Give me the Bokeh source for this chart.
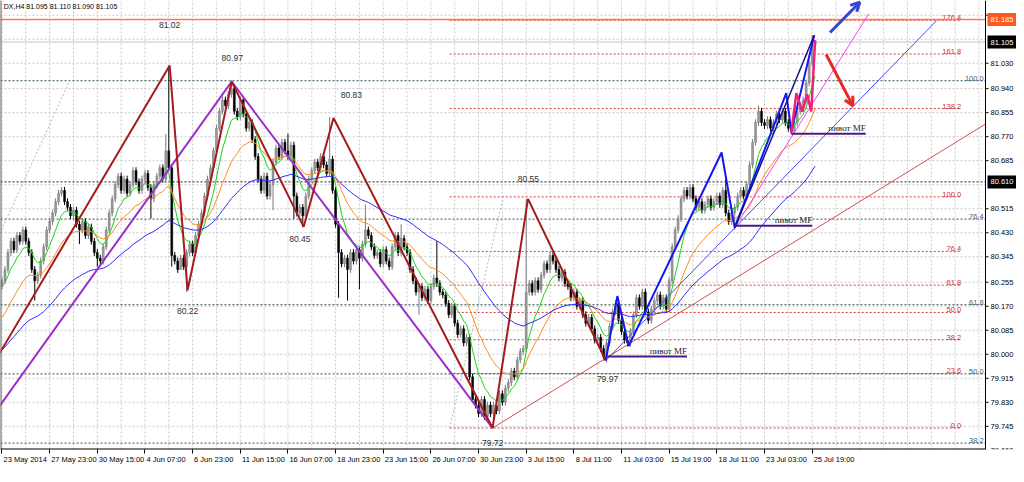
import numpy as np
from bokeh.plotting import figure
from bokeh.models import Range1d, FixedTicker, Label, Arrow, OpenHead
from bokeh.core.properties import value
from bokeh.embed import file_html
from bokeh.resources import INLINE

# ---------------- data ----------------
first_open = 80.24
closes = [
    80.26, 80.30, 80.36, 80.40, 80.37, 80.42, 80.40, 80.44, 80.40, 80.36,
    80.30, 80.26, 80.28, 80.33, 80.38, 80.44, 80.47, 80.50, 80.54, 80.57,
    80.58, 80.54, 80.52, 80.49, 80.51, 80.46, 80.44, 80.47, 80.42, 80.45,
    80.40, 80.36, 80.34, 80.33, 80.38, 80.44, 80.50, 80.55, 80.60, 80.63,
    80.58, 80.62, 80.57, 80.60, 80.65, 80.61, 80.58, 80.62, 80.64, 80.59,
    80.55, 80.60, 80.63, 80.66, 80.62, 80.72, 80.66, 80.35, 80.33, 80.30,
    80.34, 80.31, 80.36, 80.39, 80.36, 80.42, 80.46, 80.50, 80.56, 80.62,
    80.66, 80.72, 80.80, 80.86, 80.90, 80.88, 80.92, 80.94, 80.86, 80.84,
    80.90, 80.85, 80.80, 80.82, 80.76, 80.70, 80.62, 80.58, 80.63, 80.56,
    80.60, 80.68, 80.73, 80.70, 80.75, 80.72, 80.70, 80.74, 80.56, 80.50,
    80.52, 80.49, 80.56, 80.62, 80.65, 80.68, 80.66, 80.70, 80.67, 80.64,
    80.69, 80.58, 80.46, 80.36, 80.32, 80.34, 80.30, 80.36, 80.33, 80.37,
    80.34, 80.39, 80.44, 80.42, 80.38, 80.35, 80.36, 80.32, 80.37, 80.33,
    80.31, 80.38, 80.42, 80.36, 80.41, 80.38, 80.36, 80.30, 80.26, 80.22,
    80.24, 80.20, 80.23, 80.19, 80.24, 80.27, 80.25, 80.22, 80.21, 80.18,
    80.14, 80.17, 80.11, 80.07, 80.09, 80.04, 80.06, 79.92, 79.84, 79.82,
    79.79, 79.84, 79.78, 79.82, 79.79, 79.82, 79.80, 79.86, 79.83, 79.88,
    79.90, 79.94, 79.92, 79.98, 80.01, 80.02, 80.22, 80.25, 80.22, 80.26,
    80.23, 80.28, 80.32, 80.30, 80.35, 80.33, 80.30, 80.27, 80.29, 80.25,
    80.24, 80.20, 80.22, 80.17, 80.19, 80.14, 80.11, 80.13, 80.09, 80.05,
    80.06, 80.02, 79.99, 80.04, 80.10, 80.15, 80.18, 80.12, 80.08, 80.05,
    80.04, 80.08, 80.14, 80.20, 80.17, 80.22, 80.15, 80.12, 80.16, 80.19,
    80.21, 80.17, 80.20, 80.16, 80.26, 80.38, 80.44, 80.48, 80.55, 80.58,
    80.56, 80.59, 80.55, 80.52, 80.54, 80.51, 80.53, 80.55, 80.52, 80.54,
    80.56, 80.53, 80.58, 80.50, 80.47, 80.50, 80.52, 80.56, 80.58, 80.56,
    80.60, 80.67, 80.75, 80.82, 80.86, 80.82, 80.81, 80.83, 80.80, 80.82,
    80.85, 80.83, 80.86, 80.82, 80.80, 80.79, 80.82, 80.86, 80.88, 80.90,
    80.96, 81.03, 81.095, 81.105,
]
# long wicks: bar index and extreme price
wick_bars = [11, 26, 32, 50, 55, 56, 57, 60, 62, 77, 91, 96, 98, 101, 110, 113, 116,
             120, 122, 134, 140, 146, 165, 176, 203, 243, 246, 254, 265, 272, 273, 273]
wick_prices = [80.19, 80.39, 80.31, 80.48, 80.78, 81.02, 80.31, 80.31, 80.22, 80.97,
               80.51, 80.78, 80.48, 80.45, 80.84, 80.20, 80.19, 80.23, 80.53, 80.46,
               80.14, 80.40, 79.74, 80.55, 79.97, 80.62, 80.44, 80.88, 80.78, 81.13,
               81.11, 81.09]

# moving averages (exponential), starting values read at the left edge
ma_periods = [8, 21, 55]
ma_starts = [80.24, 80.13, 80.016]
ma_colors = ["#19D419", "#FF8C1A", "#2B2BFF"]

# x axis labels (every 16 bars)
x_tick_bars = [0, 16, 32, 48, 64, 80, 96, 112, 128, 144, 160, 176, 192, 208, 224, 240, 256, 272]
x_tick_labels = ["23 May 2014", "27 May 23:00", "30 May 15:00", "4 Jun 07:00", "6 Jun 23:00",
                 "11 Jun 15:00", "16 Jun 07:00", "18 Jun 23:00", "23 Jun 15:00", "26 Jun 07:00",
                 "30 Jun 23:00", "3 Jul 15:00", "8 Jul 11:00", "11 Jul 03:00", "15 Jul 19:00",
                 "18 Jul 11:00", "23 Jul 03:00", "25 Jul 19:00"]
y_tick_vals = [79.660, 79.745, 79.830, 79.915, 80.000, 80.085, 80.170, 80.255, 80.345,
               80.430, 80.515, 80.685, 80.770, 80.855, 80.940, 81.030, 81.200]
y_tick_labels = ["79.660", "79.745", "79.830", "79.915", "80.000", "80.085", "80.170", "80.255",
                 "80.345", "80.430", "80.515", "80.685", "80.770", "80.855", "80.940", "81.030", "81.200"]
y_grid_vals = y_tick_vals + [80.600, 81.115]
x_grid_bars = list(range(0, 330, 8))

# zigzags and trend lines (bar, price)
zz_red_x = [-1, 56.3, 62.3, 77.1, 101.3, 111.3, 164.7, 176.6, 202.7]
zz_red_y = [80.000, 81.022, 80.226, 80.965, 80.451, 80.836, 79.739, 80.550, 79.978]
zz_purple_x = [-1, 77.1, 164.7]
zz_purple_y = [79.814, 80.965, 79.739]
zz_blue_x = [202.7, 206.6, 210.4, 241.6, 246.0, 263.3, 265.0, 272.7]
zz_blue_y = [79.978, 80.206, 80.029, 80.714, 80.448, 80.924, 80.788, 81.129]
navy_x = [246.0, 272.7]
navy_y = [80.448, 81.129]
zz_pink_x = [265.0, 266.7, 268.7, 270.3, 271.7, 273.0]
zz_pink_y = [80.783, 80.924, 80.859, 80.920, 80.859, 81.112]
pink_line_x = [246.0, 291.0]
pink_line_y = [80.448, 81.205]
blue_trend_x = [202.7, 313.7]
blue_trend_y = [79.978, 81.180]
red_trend_x = [164.7, 330.2]
red_trend_y = [79.739, 80.815]

pivot_x0 = [203.3, 246.0, 265.0]
pivot_x1 = [230.0, 272.0, 290.0]
pivot_y = [79.992, 80.455, 80.780]
pivot_text = ["пивот MF", "пивот MF", "пивот MF"]

peak_labels = ["81.02", "80.97", "80.83", "80.45", "80.22", "80.55", "79.97", "79.72"]
peak_label_x = [56.3, 77.3, 117.3, 100.0, 62.3, 176.7, 203.3, 164.7]
peak_label_y = [81.167, 81.050, 80.917, 80.407, 80.153, 80.619, 79.913, 79.687]

# Fibonacci (red): low/high anchors
fib_red_lo, fib_red_hi = 79.739, 80.557
fib_red_levels = [0.0, 23.6, 38.2, 50.0, 61.8, 76.4, 100.0, 138.2, 161.8, 176.4]
fib_red_x0, fib_red_x1 = 150.3, 322.0
fib_red_diag_x = [150.3, 168.3]
# Fibonacci (dark)
fib_dk_lo, fib_dk_hi = 78.893, 80.968
fib_dk_levels = [38.2, 50.0, 61.8, 76.4, 100.0]
fib_dk_diag_x = [-67.1, 22.7]

hline_black = 80.610
hline_orange = 81.185
hline_bid = 81.105
badge_prices = [81.185, 81.105, 80.610]
badge_texts = ["81.185", "81.105", "80.610"]
badge_colors = ["#FF5A1E", "#000000", "#000000"]

arrow_blue = [278.0, 81.139, 288.0, 81.246]
arrow_red = [276.7, 81.061, 285.7, 80.879]

title_text = "DX,H4  81.095 81.110 81.090 81.105"

# ---------------- derived ----------------
n = len(closes)
bars = np.arange(n)
opens = [first_open] + closes[:-1]
highs = [max(o, c) + 0.012 for o, c in zip(opens, closes)]
lows = [min(o, c) - 0.012 for o, c in zip(opens, closes)]
for b, pr in zip(wick_bars, wick_prices):
    if pr > max(opens[b], closes[b]):
        highs[b] = pr
    else:
        lows[b] = pr
up = [c >= o for o, c in zip(opens, closes)]

def ema(vals, period, start):
    a = 2.0 / (period + 1)
    e = start
    out = [start]
    for v in vals[1:]:
        e = e + a * (v - e)
        out.append(e)
    return out

W_FIG, H_FIG = 1016, 466
X0, XR = -0.5, 330.2          # chart area (price axis sits at XR)
PPB = 985.0 / (XR - X0)       # pixels per bar
X1 = X0 + W_FIG / PPB         # frame extends over the price-label column
Y0, Y1 = 79.663, 81.252

p = figure(width=W_FIG, height=H_FIG, output_backend="svg", toolbar_location=None,
           x_range=Range1d(X0, X1), y_range=Range1d(Y0, Y1),
           y_axis_location=None, min_border_left=0, min_border_top=0,
           min_border_bottom=0, min_border_right=0)
p.background_fill_color = "white"
p.border_fill_color = "white"
p.outline_line_color = None
p.xgrid.visible = False
p.ygrid.visible = False

# x axis: labels start at the tick, like the original
AW = {' ': .278, ':': .278, 'M': .833, 'a': .556, 'y': .5, 'J': .5, 'u': .556, 'n': .556, 'l': .222}
def text_w(s, size):
    return sum(AW.get(ch, .556) for ch in s) * size

shifted = [round(b + (text_w(t, 7.5) / 2 + 1.5) / PPB, 3) for b, t in zip(x_tick_bars, x_tick_labels)]
p.xaxis.ticker = FixedTicker(ticks=shifted, minor_ticks=x_tick_bars)
p.xaxis.major_label_overrides = {s: t for s, t in zip(shifted, x_tick_labels)}
p.xaxis.major_tick_out = 0
p.xaxis.major_tick_in = 0
p.xaxis.minor_tick_out = 4
p.xaxis.minor_tick_in = 0
p.xaxis.minor_tick_line_color = "#000000"
p.xaxis.major_label_standoff = 1
p.xaxis.major_label_text_font = "Liberation Sans"
p.xaxis.major_label_text_font_size = "7.5px"
p.xaxis.major_label_text_color = "#000000"
p.xaxis.axis_line_color = None

# grid
p.segment(x0=x_grid_bars, x1=x_grid_bars, y0=[Y0] * len(x_grid_bars), y1=[Y1] * len(x_grid_bars),
          line_color="#C8C8C8", line_dash="2 2", line_width=1)
p.segment(x0=[X0] * len(y_grid_vals), x1=[XR] * len(y_grid_vals), y0=y_grid_vals, y1=y_grid_vals,
          line_color="#C8C8C8", line_dash="2 2", line_width=1)

# fib lines
red_lv_y = [fib_red_lo + lv / 100.0 * (fib_red_hi - fib_red_lo) for lv in fib_red_levels]
p.segment(x0=[fib_red_x0] * len(red_lv_y), x1=[fib_red_x1] * len(red_lv_y), y0=red_lv_y, y1=red_lv_y,
          line_color="#E03A3A", line_dash="2 2", line_width=1)
p.text(x=[fib_red_x1] * len(red_lv_y), y=red_lv_y, text=["%.1f" % lv for lv in fib_red_levels],
       text_align="right", text_baseline="bottom", text_font=value("Liberation Sans"),
       text_font_size="7.5px", text_color="#D03030")
p.line(fib_red_diag_x, [fib_red_lo, fib_red_hi], line_color="#B8B8B8", line_dash="2 2", line_width=1)

dk_lv_y = [fib_dk_lo + lv / 100.0 * (fib_dk_hi - fib_dk_lo) for lv in fib_dk_levels]
p.segment(x0=[X0] * len(dk_lv_y), x1=[XR] * len(dk_lv_y), y0=dk_lv_y, y1=dk_lv_y,
          line_color="#2F4F4F", line_dash="2 2", line_width=1)
p.text(x=[XR - 0.6] * len(dk_lv_y), y=dk_lv_y, text=["%.1f" % lv for lv in fib_dk_levels],
       text_align="right", text_baseline="bottom", text_font=value("Liberation Sans"),
       text_font_size="7.5px", text_color="#3E5F70")
p.line(fib_dk_diag_x, [fib_dk_lo, fib_dk_hi], line_color="#B8B8B8", line_dash="2 2", line_width=1)

# horizontal lines
p.segment(x0=[X0], x1=[XR], y0=[hline_black], y1=[hline_black], line_color="#202020", line_dash="2 2")
p.segment(x0=[X0], x1=[XR], y0=[hline_bid], y1=[hline_bid], line_color="#C4C4C4", line_width=1)
p.segment(x0=[X0], x1=[XR], y0=[hline_orange], y1=[hline_orange], line_color="#FF7A45", line_width=1.5)

# candles
wick_col = ["#7A7A7A" if u else "#000000" for u in up]
p.segment(x0=bars, x1=bars, y0=lows, y1=highs, line_color=wick_col, line_width=1)
p.vbar(x=bars, width=0.62, top=[max(o, c) for o, c in zip(opens, closes)],
       bottom=[min(o, c) for o, c in zip(opens, closes)],
       fill_color=["#9C9C9C" if u else "#000000" for u in up],
       line_color=wick_col, line_width=0.6)

# moving averages
for per, st, col in zip(ma_periods, ma_starts, ma_colors):
    p.line(bars, ema(closes, per, st), line_color=col, line_width=1)

# trend lines
p.line(red_trend_x, red_trend_y, line_color="#D05050", line_width=1)
p.line(blue_trend_x, blue_trend_y, line_color="#4848FF", line_width=1)
p.line(pink_line_x, pink_line_y, line_color="#FF3CFF", line_width=1)

# zigzags
p.line(zz_purple_x, zz_purple_y, line_color="#9A2FCC", line_width=2)
p.line(zz_red_x, zz_red_y, line_color="#A51B1B", line_width=2)
p.line(zz_blue_x, zz_blue_y, line_color="#1515F5", line_width=2)
p.line(navy_x, navy_y, line_color="#10108A", line_width=1.5)
p.line(zz_pink_x, zz_pink_y, line_color="#F0207A", line_width=2.5)

# pivots
p.segment(x0=pivot_x0, x1=pivot_x1, y0=pivot_y, y1=pivot_y, line_color="#4A1A8A", line_width=2)
p.text(x=pivot_x1, y=pivot_y, text=pivot_text, text_align="right", text_baseline="bottom",
       y_offset=-1, text_font=value("Liberation Serif"), text_font_size="9px", text_color="#1E1E1E")

# peak labels
p.text(x=peak_label_x, y=peak_label_y, text=peak_labels, text_align="center", text_baseline="middle",
       text_font=value("Liberation Sans"), text_font_size="8.5px", text_color="#303030")

# arrows
p.add_layout(Arrow(x_start=arrow_blue[0], y_start=arrow_blue[1], x_end=arrow_blue[2], y_end=arrow_blue[3],
                   line_color="#3246D2", line_width=3,
                   end=OpenHead(size=9, line_color="#3246D2", line_width=3)))
p.add_layout(Arrow(x_start=arrow_red[0], y_start=arrow_red[1], x_end=arrow_red[2], y_end=arrow_red[3],
                   line_color="#E82A22", line_width=3,
                   end=OpenHead(size=9, line_color="#E82A22", line_width=3)))

# chart borders (left and bottom) and price axis on the right
p.segment(x0=[X0], x1=[X0], y0=[Y0], y1=[Y1], line_color="#606060", line_width=2)
p.segment(x0=[X0], x1=[XR], y0=[Y0], y1=[Y0], line_color="#000000", line_width=2)
p.segment(x0=[XR], x1=[XR], y0=[Y0], y1=[Y1], line_color="#000000", line_width=1)
p.segment(x0=[XR] * len(y_tick_vals), x1=[XR + 3.0 / PPB] * len(y_tick_vals),
          y0=y_tick_vals, y1=y_tick_vals, line_color="#000000", line_width=1)
p.text(x=[XR + 5.0 / PPB] * len(y_tick_vals), y=y_tick_vals, text=y_tick_labels,
       text_align="left", text_baseline="middle", text_font=value("Liberation Sans"),
       text_font_size="7.5px", text_color="#000000")
p.rect(x=[XR + (2.0 + 15.0) / PPB] * len(badge_prices), y=badge_prices, width=30, height=13,
       width_units="screen", height_units="screen", fill_color=badge_colors, line_color=None)
p.text(x=[XR + 5.0 / PPB] * len(badge_prices), y=badge_prices, text=badge_texts,
       text_align="left", text_baseline="middle", text_font=value("Liberation Sans"),
       text_font_size="7.5px", text_color="#FFFFFF")

# title
p.add_layout(Label(x=0.6, y=Y1, text=title_text, text_baseline="top", y_offset=-2,
                   text_font="Liberation Sans", text_font_size="7px", text_color="#000000"))

open("out.html", "w").write(file_html(p, INLINE))
